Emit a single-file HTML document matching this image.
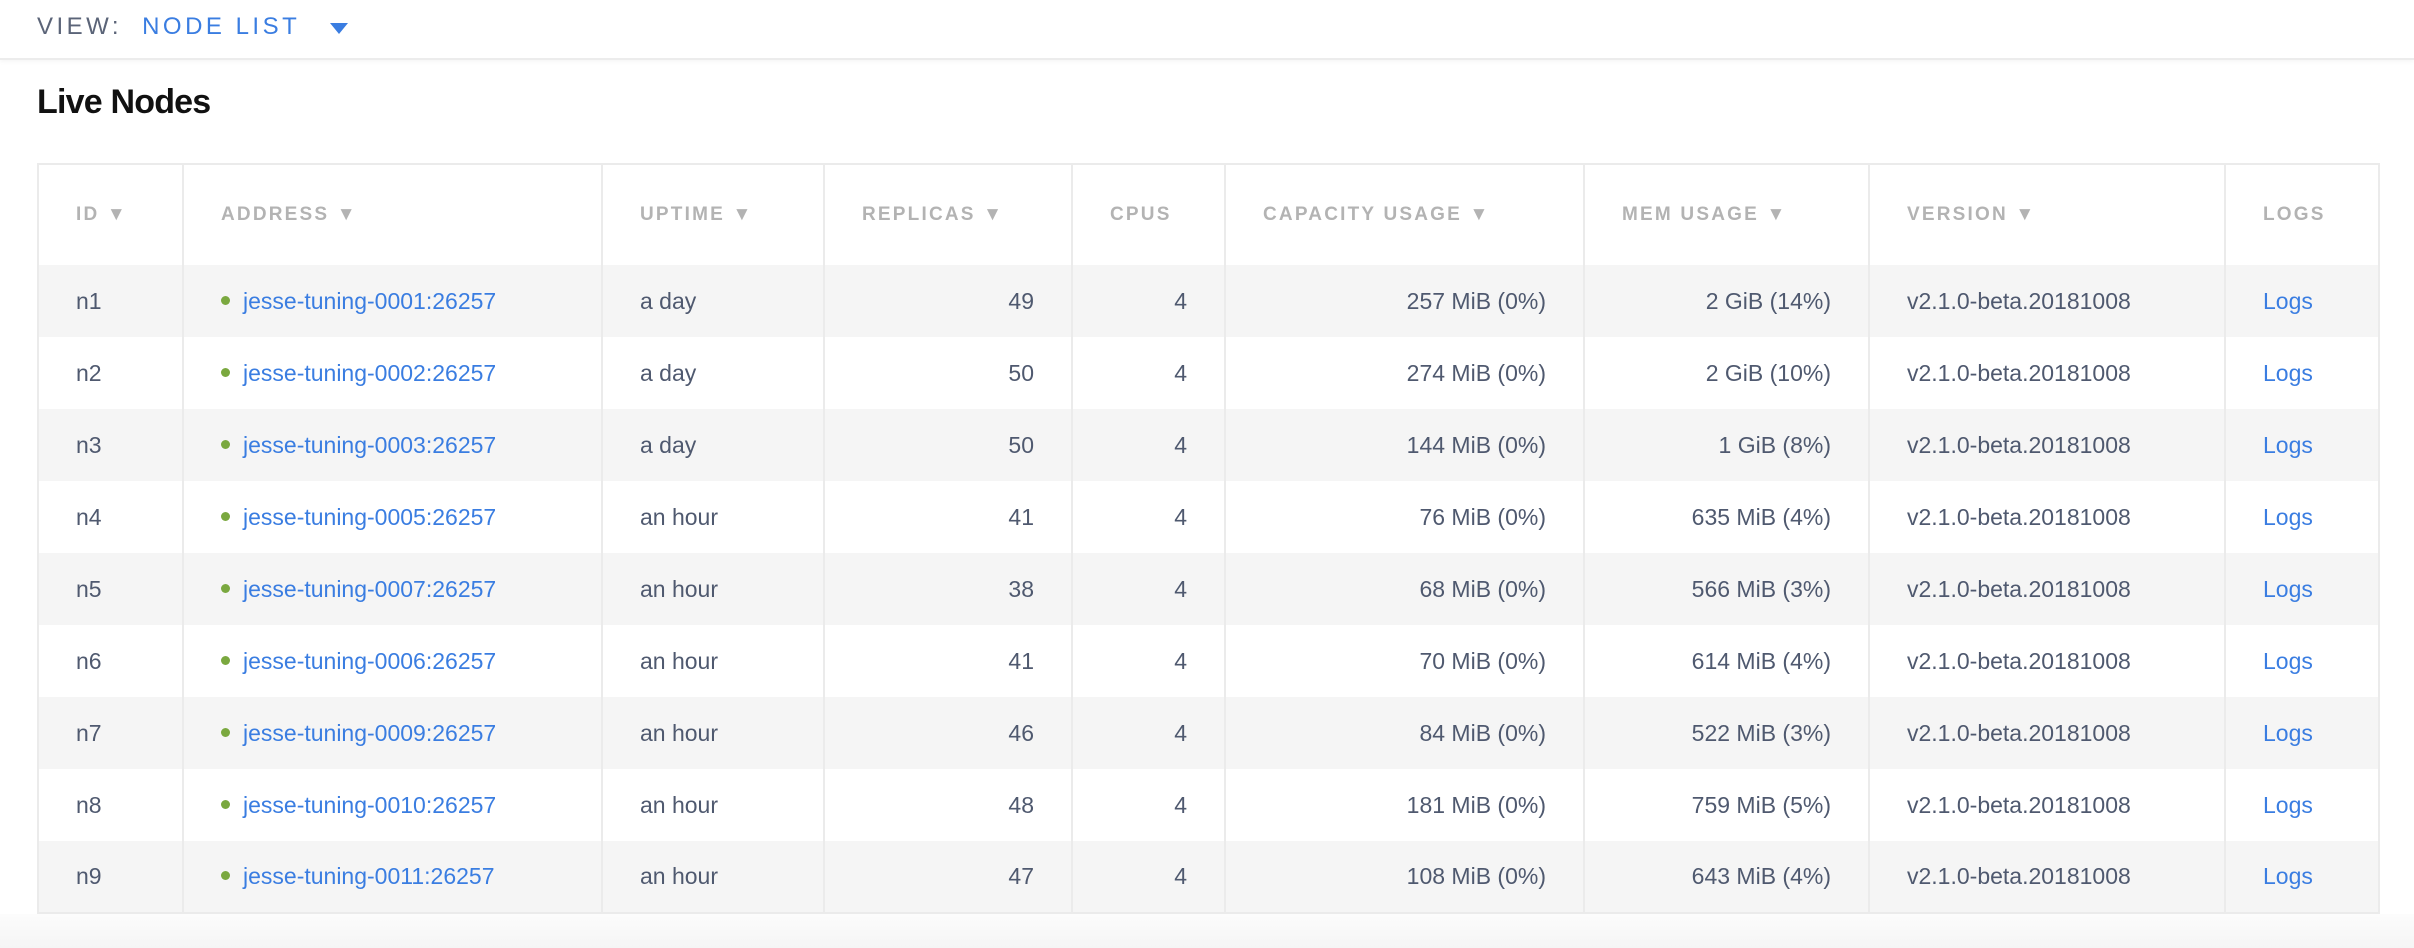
<!DOCTYPE html>
<html><head><meta charset="utf-8"><style>
*{margin:0;padding:0;box-sizing:border-box}
body{width:2414px;height:948px;background:#fff;font-family:"Liberation Sans",sans-serif;position:relative;overflow:hidden}
.top{position:absolute;left:0;top:0;width:2414px;height:60px;border-bottom:2px solid #ececec;box-shadow:0 2px 4px rgba(0,0,0,0.04)}
.view{position:absolute;left:37px;top:12px;font-size:24px;letter-spacing:3.5px;color:#5b6478;line-height:30px}
.view b{font-weight:normal;color:#3a7de1;margin-left:20px}
.tri{position:absolute;left:330px;top:23px;width:0;height:0;border-left:9px solid transparent;border-right:9px solid transparent;border-top:11px solid #3a7de1}
h1{position:absolute;left:37px;top:80px;font-size:34px;font-weight:bold;color:#111;line-height:44px;letter-spacing:-0.8px}
table{position:absolute;left:37px;top:163px;width:2341px;border-collapse:collapse;border:2px solid #ebebeb;table-layout:fixed}
td,th{border-left:2px solid #ebebeb;padding:0 37px;font-size:23px;color:#4f596f;white-space:nowrap;overflow:hidden}
th{height:101px;font-size:19px;font-weight:bold;color:#b3b3b3;letter-spacing:2.2px;text-align:left}
td{height:72px}
tr:nth-child(even) td{background:#f5f5f5}
.r{text-align:right}
a{color:#3a7de1;text-decoration:none}
.dot{display:inline-block;width:9px;height:9px;border-radius:50%;background:#7aa83f;margin-right:13px;vertical-align:middle;position:relative;top:-2px}
.shadow{position:absolute;left:0;top:914px;width:2414px;height:34px;background:linear-gradient(#fcfcfc,#f5f5f5)}
</style></head><body>
<div class="top"><div class="view">VIEW:<b>NODE LIST</b></div><div class="tri"></div></div>
<h1>Live Nodes</h1>
<div class="shadow"></div>
<table>
<colgroup><col style="width:145px"><col style="width:419px"><col style="width:222px"><col style="width:248px"><col style="width:153px"><col style="width:359px"><col style="width:285px"><col style="width:356px"><col style="width:154px"></colgroup>
<tr><th>ID ▼</th><th>ADDRESS ▼</th><th>UPTIME ▼</th><th>REPLICAS ▼</th><th>CPUS</th><th>CAPACITY USAGE ▼</th><th>MEM USAGE ▼</th><th>VERSION ▼</th><th>LOGS</th></tr>
<tr><td>n1</td><td><span class="dot"></span><a>jesse-tuning-0001:26257</a></td><td>a day</td><td class="r">49</td><td class="r">4</td><td class="r">257 MiB (0%)</td><td class="r">2 GiB (14%)</td><td>v2.1.0-beta.20181008</td><td><a>Logs</a></td></tr>
<tr><td>n2</td><td><span class="dot"></span><a>jesse-tuning-0002:26257</a></td><td>a day</td><td class="r">50</td><td class="r">4</td><td class="r">274 MiB (0%)</td><td class="r">2 GiB (10%)</td><td>v2.1.0-beta.20181008</td><td><a>Logs</a></td></tr>
<tr><td>n3</td><td><span class="dot"></span><a>jesse-tuning-0003:26257</a></td><td>a day</td><td class="r">50</td><td class="r">4</td><td class="r">144 MiB (0%)</td><td class="r">1 GiB (8%)</td><td>v2.1.0-beta.20181008</td><td><a>Logs</a></td></tr>
<tr><td>n4</td><td><span class="dot"></span><a>jesse-tuning-0005:26257</a></td><td>an hour</td><td class="r">41</td><td class="r">4</td><td class="r">76 MiB (0%)</td><td class="r">635 MiB (4%)</td><td>v2.1.0-beta.20181008</td><td><a>Logs</a></td></tr>
<tr><td>n5</td><td><span class="dot"></span><a>jesse-tuning-0007:26257</a></td><td>an hour</td><td class="r">38</td><td class="r">4</td><td class="r">68 MiB (0%)</td><td class="r">566 MiB (3%)</td><td>v2.1.0-beta.20181008</td><td><a>Logs</a></td></tr>
<tr><td>n6</td><td><span class="dot"></span><a>jesse-tuning-0006:26257</a></td><td>an hour</td><td class="r">41</td><td class="r">4</td><td class="r">70 MiB (0%)</td><td class="r">614 MiB (4%)</td><td>v2.1.0-beta.20181008</td><td><a>Logs</a></td></tr>
<tr><td>n7</td><td><span class="dot"></span><a>jesse-tuning-0009:26257</a></td><td>an hour</td><td class="r">46</td><td class="r">4</td><td class="r">84 MiB (0%)</td><td class="r">522 MiB (3%)</td><td>v2.1.0-beta.20181008</td><td><a>Logs</a></td></tr>
<tr><td>n8</td><td><span class="dot"></span><a>jesse-tuning-0010:26257</a></td><td>an hour</td><td class="r">48</td><td class="r">4</td><td class="r">181 MiB (0%)</td><td class="r">759 MiB (5%)</td><td>v2.1.0-beta.20181008</td><td><a>Logs</a></td></tr>
<tr><td>n9</td><td><span class="dot"></span><a>jesse-tuning-0011:26257</a></td><td>an hour</td><td class="r">47</td><td class="r">4</td><td class="r">108 MiB (0%)</td><td class="r">643 MiB (4%)</td><td>v2.1.0-beta.20181008</td><td><a>Logs</a></td></tr>
</table>
</body></html>
